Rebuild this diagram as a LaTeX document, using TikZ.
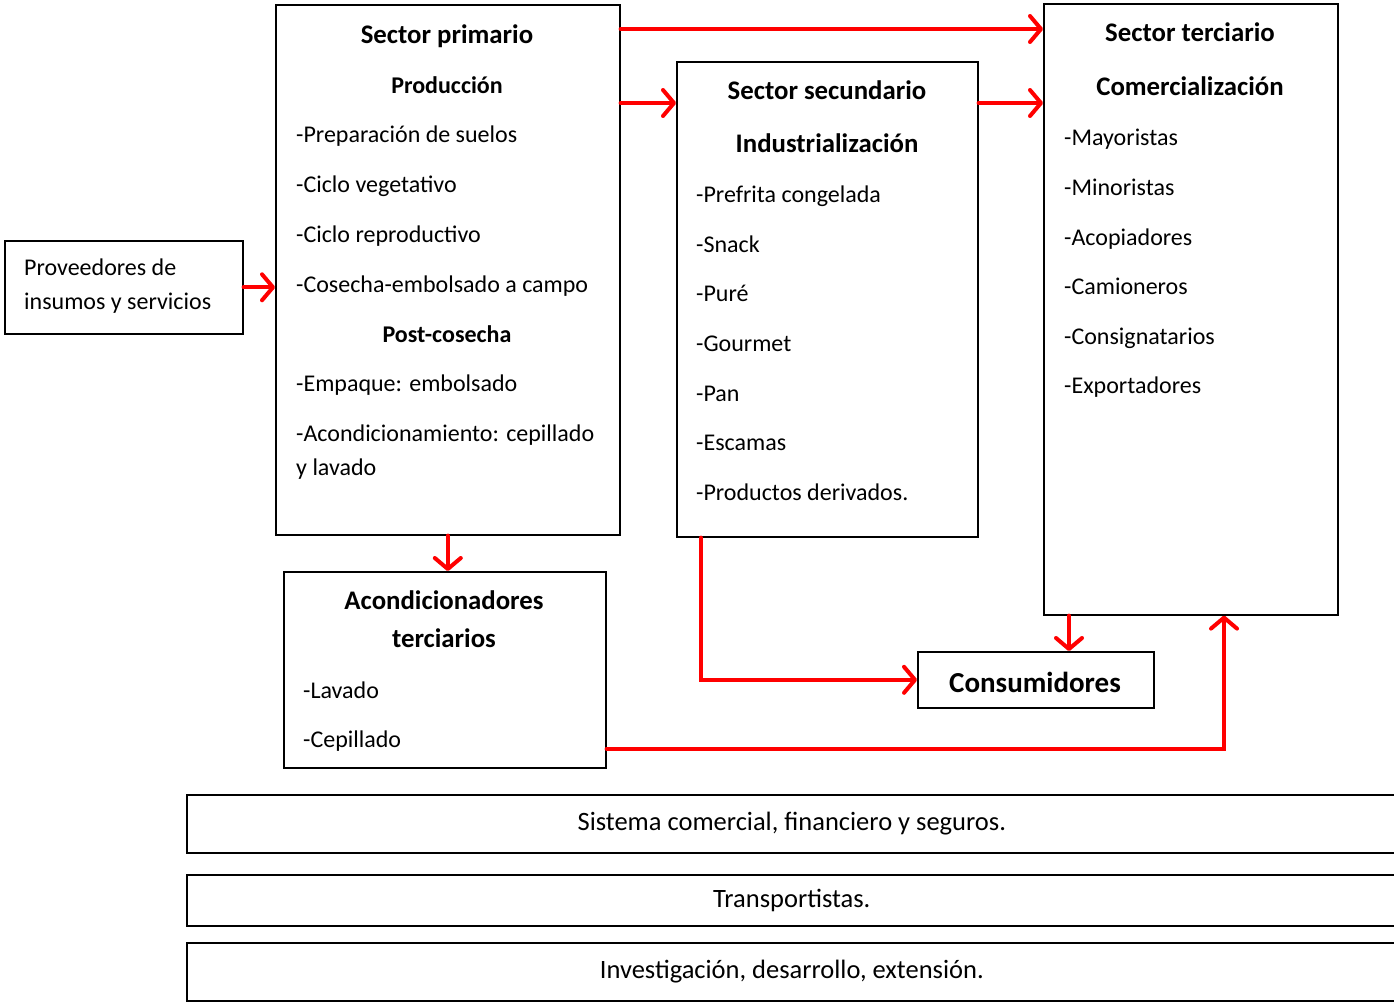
\documentclass[tikz,border=0pt]{standalone}
\usepackage{fontspec}
\setmainfont{Carlito}
\usetikzlibrary{arrows.meta}

\begin{document}
\begin{tikzpicture}[x=1pt,y=-1pt,
  caja/.style={draw, line width=1.6pt, anchor=north west, inner sep=0pt},
  item/.style={anchor=base west, inner sep=0pt, font=\fontsize{24}{28}\selectfont},
  titulo/.style={anchor=base, inner sep=0pt, font=\fontsize{26.8}{30}\selectfont\bfseries},
  subtitulo/.style={anchor=base, inner sep=0pt, font=\fontsize{24}{28}\selectfont\bfseries},
  flecha/.style={draw=red, line width=4pt, line cap=round,
    -{Straight Barb[round,length=11pt,width=26pt]}},
  banda/.style={draw, line width=1.6pt, anchor=north west, inner sep=0pt,
    font=\fontsize{26.5}{30}\selectfont}]
  \useasboundingbox (0,0) rectangle (1394,1001);
 \begin{scope}
  \node[caja, minimum width=238pt, minimum height=93pt] (prov) at (4,240) {};
  \node[caja, minimum width=344pt, minimum height=530pt] (prim) at (275,4) {};
  \node[caja, minimum width=301pt, minimum height=475pt] (sec) at (676,61) {};
  \node[caja, minimum width=294pt, minimum height=611pt] (terc) at (1043,3) {};
  \node[caja, minimum width=322pt, minimum height=196pt] (acond) at (283,571) {};
  \node[caja, minimum width=236pt, minimum height=56pt] (cons) at (917,651) {};
 \end{scope}
  \node[item] (prov1) at (24,275) {Proveedores de};
  \node[item] (prov2) at (24,309) {insumos y servicios};
 \begin{scope}[every node/.style={item}]
  \node[titulo] (primT) at (447,43) {Sector primario};
  \node[subtitulo] (primP) at (447,93) {Producción};
  \node (prim1) at (296,142) {-Preparación de suelos};
  \node (prim2) at (296,192) {-Ciclo vegetativo};
  \node (prim3) at (296,242) {-Ciclo reproductivo};
  \node (prim4) at (296,292) {-Cosecha-embolsado a campo};
  \node[subtitulo] (primC) at (447,342) {Post-cosecha};
  \node (prim5) at (296,391) {-Empaque: embolsado};
  \node (prim6) at (296,441) {-Acondicionamiento: cepillado};
  \node (prim7) at (296,475) {y lavado};
 \end{scope}
 \begin{scope}[every node/.style={item}]
  \node[titulo] (secT) at (827,99) {Sector secundario};
  \node[titulo] (secI) at (827,152) {Industrialización};
  \node (sec1) at (696,202) {-Prefrita congelada};
  \node (sec2) at (696,252) {-Snack};
  \node (sec3) at (696,301) {-Puré};
  \node (sec4) at (696,351) {-Gourmet};
  \node (sec5) at (696,401) {-Pan};
  \node (sec6) at (696,450) {-Escamas};
  \node (sec7) at (696,500) {-Productos derivados.};
 \end{scope}
 \begin{scope}[every node/.style={item}]
  \node[titulo] (tercT) at (1190,41) {Sector terciario};
  \node[titulo] (tercC) at (1190,95) {Comercialización};
  \node (terc1) at (1064,145) {-Mayoristas};
  \node (terc2) at (1064,195) {-Minoristas};
  \node (terc3) at (1064,245) {-Acopiadores};
  \node (terc4) at (1064,294) {-Camioneros};
  \node (terc5) at (1064,344) {-Consignatarios};
  \node (terc6) at (1064,393) {-Exportadores};
 \end{scope}
 \begin{scope}[every node/.style={item}]
  \node[titulo] (acondT) at (444,609) {Acondicionadores};
  \node[titulo] (acondT2) at (444,647) {terciarios};
  \node (acond1) at (303,698) {-Lavado};
  \node (acond2) at (303,747) {-Cepillado};
 \end{scope}
  \node[titulo, font=\fontsize{29}{32}\selectfont\bfseries] (consT) at (1035,692) {Consumidores};
  \node[banda, minimum width=1210pt, minimum height=58pt] (sist) at (186,794) {Sistema comercial, financiero y seguros.};
  \node[banda, minimum width=1210pt, minimum height=51pt] (trans) at (186,874) {Transportistas.};
  \node[banda, minimum width=1210pt, minimum height=58pt] (inv) at (186,942) {Investigación, desarrollo, extensión.};
  \path[flecha] (prov.east) -- (prov.east -| prim.west);
  \path[flecha] ([yshift=-25pt]prim.north east) -- ([yshift=-25pt]prim.north east -| terc.west);
  \path[flecha] ([yshift=-42pt]sec.north west -| prim.east) -- ([yshift=-42pt]sec.north west);
  \path[flecha] ([yshift=-42pt]sec.north east) -- ([yshift=-42pt]sec.north east -| terc.west);
  \path[flecha] (prim.south) -- (prim.south |- acond.north);
  \path[flecha] ([xshift=25pt]sec.south west) |- (cons.west);
  \path[flecha] ([xshift=26pt]terc.south west) -- ([xshift=26pt]terc.south west |- cons.north);
  \path[flecha] ([yshift=20pt]acond.south east) -| ([xshift=181pt]terc.south west);
 \end{tikzpicture}
\end{document}
